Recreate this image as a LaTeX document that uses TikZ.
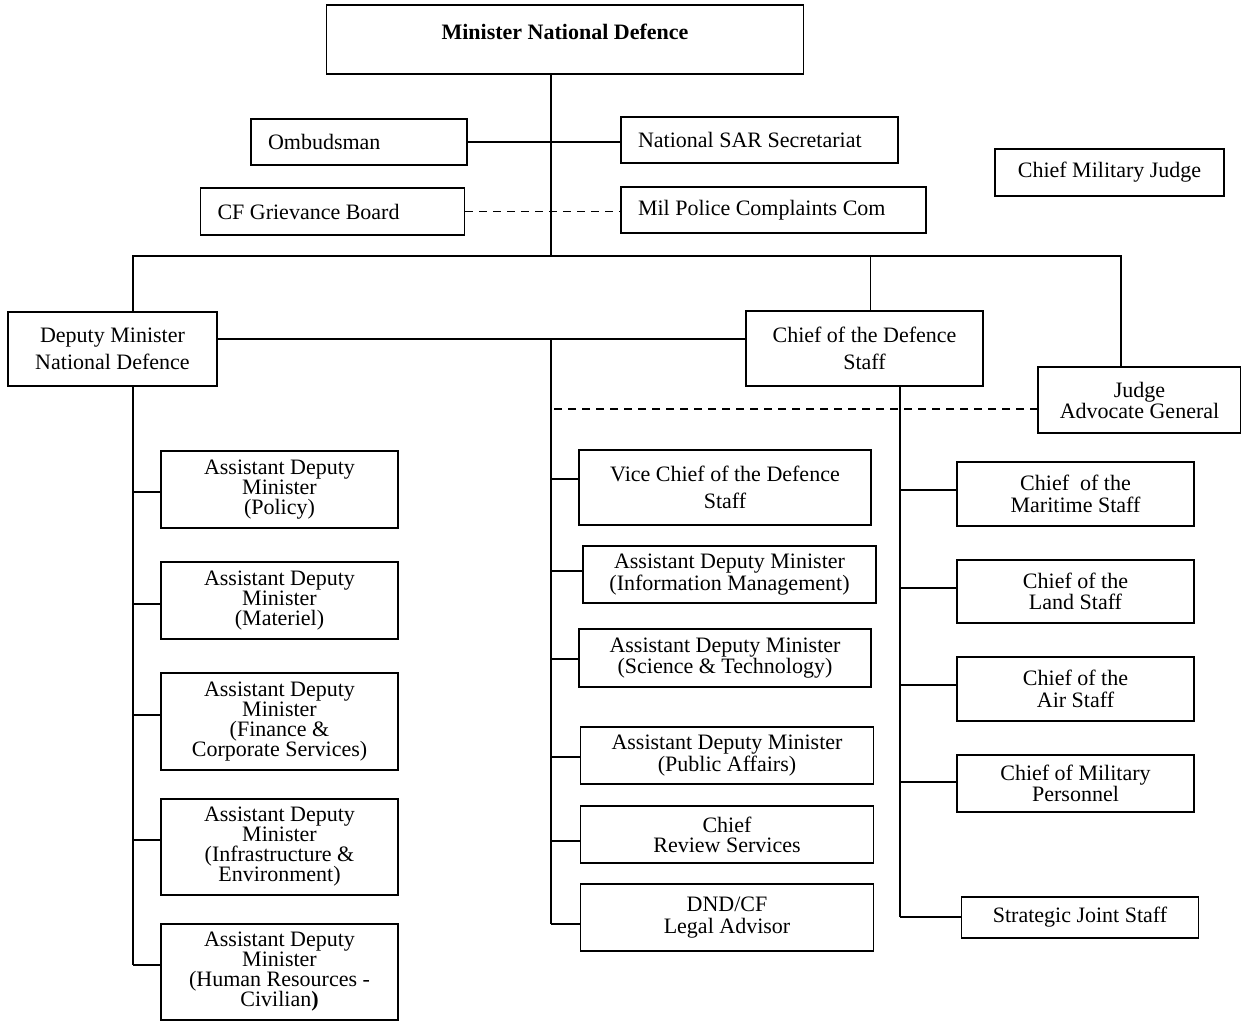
\documentclass[tikz,border=0pt]{standalone}
\usepackage{fontspec}
\setmainfont{Liberation Serif}
\usetikzlibrary{positioning,calc}

\begin{document}
\begin{tikzpicture}[
    x=1pt, y=-1pt,
    line width=1.8pt,
    block/.style={rectangle, draw, line width=1.8pt, align=center, inner sep=2pt, font=\fontsize{22}{20}\selectfont},
    spaced/.style={font=\fontsize{22}{27}\selectfont},
    medspaced/.style={font=\fontsize{22}{21.5}\selectfont},
    leftblock/.style={block, align=flush left, inner xsep=17pt, minimum height=46pt},
    link/.style={dash pattern=on 8pt off 6pt}
]
    \useasboundingbox (0,0) rectangle (1241,1021);

    % Minister and the offices beside him
    \node[block, minimum width=477pt, minimum height=69pt, font=\fontsize{22}{20}\selectfont\bfseries, text height=15pt, text depth=15pt] (mnd) at (565,39.5) {Minister National Defence};
    \node[leftblock, text width=182pt] (omb) at (359,142) {Ombudsman};
    \node[leftblock, text width=243pt] (sar) at (759.5,140) {National SAR Secretariat};
    \node[leftblock, text width=230pt, minimum height=47pt] (cfgb) at (332.5,211.5) {CF Grievance Board};
    \node[leftblock, text width=271pt] (mpcc) at (773.5,210) {Mil Police Complaints Com};
    \node[block, minimum width=229pt, minimum height=47pt] (cmj) at (1109.5,172.5) {Chief Military Judge};

    \coordinate (hub) at (551,256);
    \coordinate (jdrop) at (1121,256);
    \draw (hub |- mnd.south) -- (hub);
    \draw (omb.east) -- (sar.west |- omb.east);
    \draw[link] (cfgb.east) -- (mpcc.west |- cfgb.east);

    % Second level
    \node[block, spaced, minimum width=209pt, minimum height=74pt] (dmnd) at (112.5,349) {Deputy Minister\\National Defence};
    \node[block, spaced, minimum width=237pt, minimum height=75pt] (cds) at (864.5,348.5) {Chief of the Defence\\Staff};
    \node[block, minimum width=203pt, minimum height=66pt] (jag) at (1139.5,400) {Judge\\Advocate General};

    \coordinate (ltrunk) at (133,386);
    \coordinate (mtrunk) at (551,339);
    \coordinate (rtrunk) at (900,386);
    \coordinate (jaglink) at (1038,409);

    \draw (ltrunk |- dmnd.north) |- (hub) -| (jdrop |- jag.north);
    \draw ([xshift=6pt]cds.north) -- ([xshift=6pt]cds.north |- hub);
    \draw (dmnd.east |- mtrunk) -- (cds.west |- mtrunk);
    \draw[link] (jaglink) -- (jaglink -| mtrunk);

    % Deputy Minister branch
    \foreach \y/\h/\c/\txt [count=\i] in {
        489.5/77/492/{(Policy)},
        600.5/77/604/{(Materiel)},
        721.5/97/715/{(Finance \&\\Corporate Services)},
        847/96/840/{(Infrastructure \&\\Environment)},
        972/96/965/{(Human Resources -\\Civilian\textbf{)}}} {
        \node[block, minimum width=237pt, minimum height=\h pt] (adm\i) at (279.5,\y) {Assistant Deputy\\Minister\\\txt};
        \draw (adm\i.west |- 0,\c) -- (ltrunk |- 0,\c);
    }
    \draw (ltrunk) -- (ltrunk |- 0,965);

    % Middle column
    \node[block, spaced, minimum width=292pt, minimum height=75pt] (vcds) at (725,487.5) {Vice Chief of the Defence\\Staff};
    \node[block, minimum width=293pt, minimum height=57pt] (admim) at (729.5,574.5) {Assistant Deputy Minister\\(Information Management)};
    \node[block, minimum width=292pt, minimum height=58pt] (admst) at (725,658) {Assistant Deputy Minister\\(Science \& Technology)};
    \node[block, minimum width=293pt, minimum height=57pt] (admpa) at (727,755.5) {Assistant Deputy Minister\\(Public Affairs)};
    \node[block, minimum width=293pt, minimum height=57pt] (crs) at (727,834.5) {Chief\\Review Services};
    \node[block, medspaced, minimum width=293pt, minimum height=67pt] (legal) at (727,917.5) {DND/CF\\Legal Advisor};

    \draw (mtrunk) -- (mtrunk |- 0,924);
    \foreach \n/\c in {vcds/479, admim/571, admst/659, admpa/757, crs/841, legal/924}
        \draw (\n.west |- 0,\c) -- (mtrunk |- 0,\c);

    % Chief of the Defence Staff branch
    \node[block, medspaced, minimum width=237pt, minimum height=64pt] (cms) at (1075.5,494) {Chief\ \ of the\\Maritime Staff};
    \node[block, medspaced, minimum width=237pt, minimum height=63pt] (cls) at (1075.5,591.5) {Chief of the\\Land Staff};
    \node[block, medspaced, minimum width=237pt, minimum height=64pt] (cas) at (1075.5,689) {Chief of the\\Air Staff};
    \node[block, minimum width=237pt, minimum height=57pt] (cmp) at (1075.5,783.5) {Chief of Military\\Personnel};
    \node[block, minimum width=237pt, minimum height=41pt] (sjs) at (1080,917.5) {Strategic Joint Staff};

    \draw (rtrunk) -- (rtrunk |- 0,917);
    \foreach \n/\c in {cms/490, cls/588, cas/685, cmp/782, sjs/917}
        \draw (\n.west |- 0,\c) -- (rtrunk |- 0,\c);

\end{tikzpicture}
\end{document}
